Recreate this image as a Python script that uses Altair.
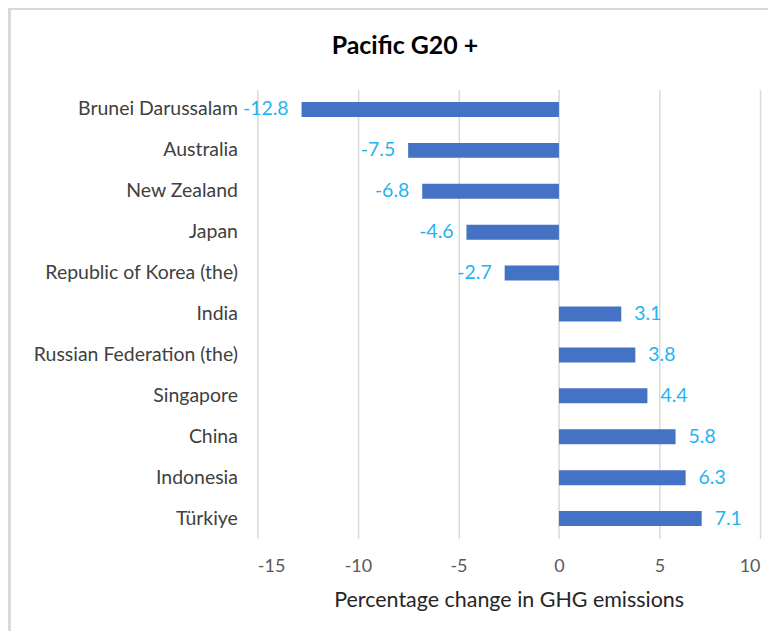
import altair as alt
import pandas as pd

countries = ["Brunei Darussalam", "Australia", "New Zealand", "Japan",
             "Republic of Korea (the)", "India", "Russian Federation (the)",
             "Singapore", "China", "Indonesia", "Türkiye"]
values = [-12.8, -7.5, -6.8, -4.6, -2.7, 3.1, 3.8, 4.4, 5.8, 6.3, 7.1]
x_ticks = [-15, -10, -5, 0, 5, 10]
chart_title = "Pacific G20 +"

df = pd.DataFrame({"country": countries, "value": values})
df["label"] = df["value"].map(lambda v: f"{v:.1f}")

FONT = "Lato"

y_enc = alt.Y("country:N", sort=countries, title=None,
              scale=alt.Scale(paddingInner=0.63, paddingOuter=0.3),
              axis=alt.Axis(labelFont=FONT, labelFontSize=19.5, labelColor="#404040",
                            labelPadding=20, labelLimit=400, ticks=False, domain=False,
                            grid=False))

x_enc = alt.X("value:Q", title="Percentage change in GHG emissions",
              scale=alt.Scale(domain=[-15, 10], nice=False, zero=False),
              axis=alt.Axis(values=x_ticks, labelFont=FONT, labelFontSize=18,
                            labelColor="#595959", labelPadding=19, ticks=False,
                            labelExpr="datum.value < 0 ? '-' + abs(datum.value) : '' + datum.value",
                            domain=False, grid=True, gridColor="#D9D9D9", gridWidth=1.5,
                            titleFont=FONT, titleFontSize=21.5, titleFontWeight="normal",
                            titleColor="#262626", titlePadding=14))

bars = alt.Chart(df).mark_bar(color="#4472C4", size=15).encode(
    x=x_enc, x2=alt.datum(0), y=y_enc)

neg = alt.Chart(df).transform_filter("datum.value < 0").mark_text(
    align="right", baseline="middle", dx=-13, font=FONT, fontSize=19.5, color="#1FB4F0"
).encode(x="value:Q", y=alt.Y("country:N", sort=countries), text="label:N")

pos = alt.Chart(df).transform_filter("datum.value >= 0").mark_text(
    align="left", baseline="middle", dx=13, font=FONT, fontSize=19.5, color="#1FB4F0"
).encode(x="value:Q", y=alt.Y("country:N", sort=countries), text="label:N")

title_mark = alt.Chart(pd.DataFrame({"t": [chart_title]})).mark_text(
    align="center", baseline="middle", font=FONT, fontSize=25, fontWeight="bold",
    color="#000000"
).encode(x=alt.value(148), y=alt.value(-44), text="t:N")

frame_top = alt.Chart(df).mark_rule(color="#D9D9D9", strokeWidth=1.5).encode(
    x=alt.value(-250), x2=alt.value(514), y=alt.value(-80.5))
frame_left = alt.Chart(df).mark_rule(color="#D9D9D9", strokeWidth=1.5).encode(
    x=alt.value(-248.5), y=alt.value(-80.5), y2=alt.value(545))

chart = alt.layer(frame_top, frame_left, bars, neg, pos, title_mark).properties(
    width=504, height=450,
    autosize=alt.AutoSizeParams(type="none"),
    padding={"left": 250, "top": 81, "right": 8, "bottom": 92},
).configure_view(stroke=None)

chart.save("out.html", embed_options={"renderer": "svg", "actions": False})
